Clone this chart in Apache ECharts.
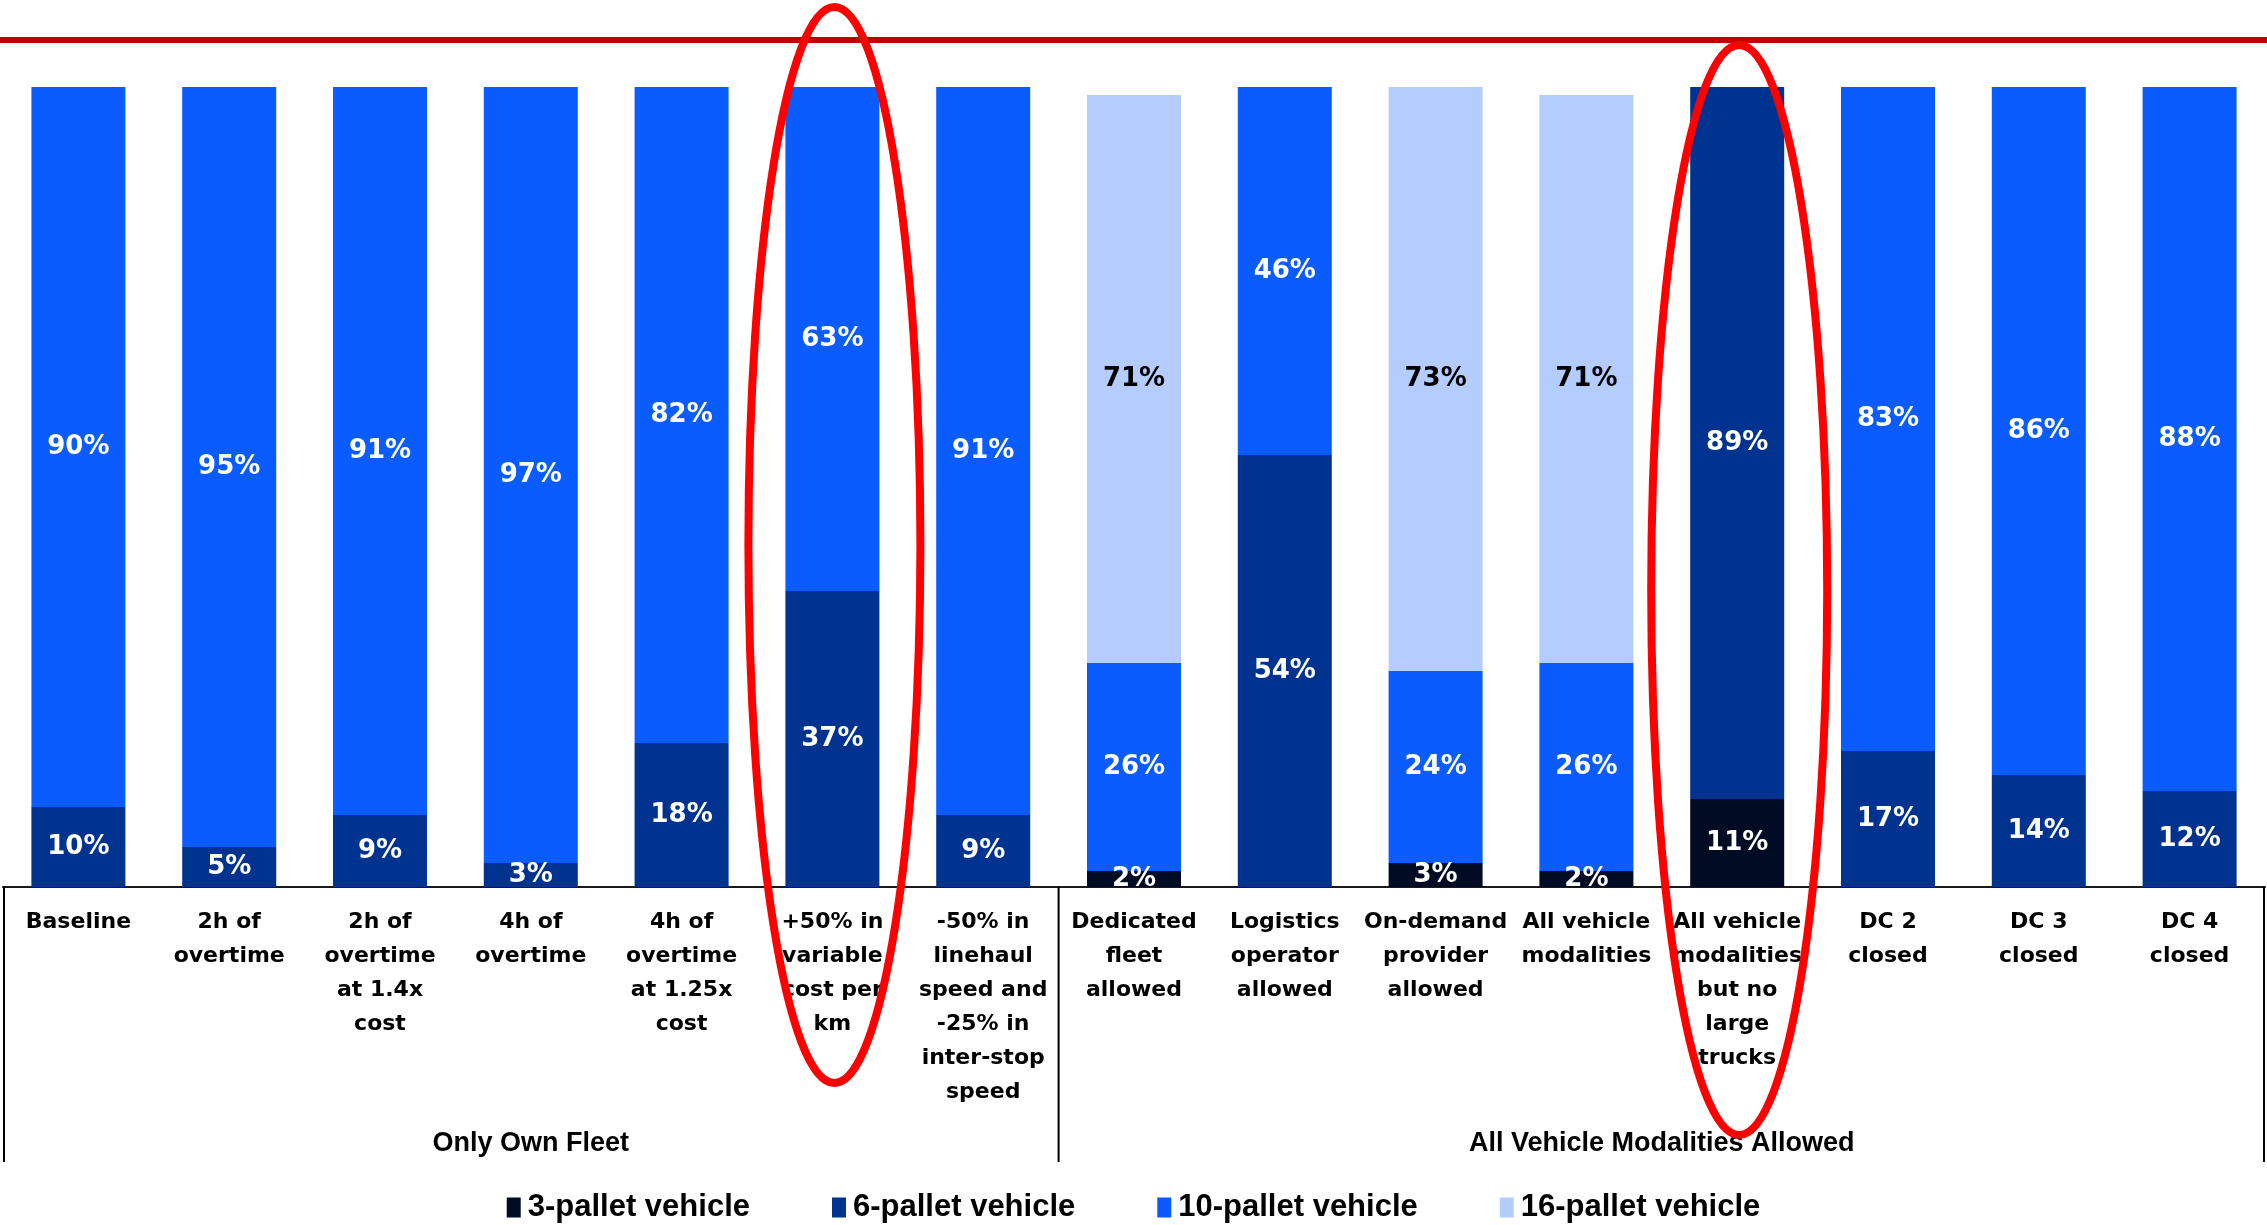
<!DOCTYPE html>
<html>
<head>
<meta charset="utf-8">
<title>Vehicle mix by scenario</title>
<script src="https://cdn.jsdelivr.net/npm/echarts@6/dist/echarts.min.js"></script>
<style>
  html, body { margin: 0; padding: 0; background: #ffffff; }
  #chart { width: 2267px; height: 1225px; }
</style>
</head>
<body>
<div id="chart"></div>
<script>
// Scenario names (x-axis categories)
const categories = [
  'Baseline',
  '2h of\novertime',
  '2h of\novertime\nat 1.4x\ncost',
  '4h of\novertime',
  '4h of\novertime\nat 1.25x\ncost',
  '+50% in\nvariable\ncost per\nkm',
  '-50% in\nlinehaul\nspeed and\n-25% in\ninter-stop\nspeed',
  'Dedicated\nfleet\nallowed',
  'Logistics\noperator\nallowed',
  'On-demand\nprovider\nallowed',
  'All vehicle\nmodalities',
  'All vehicle\nmodalities\nbut no\nlarge\ntrucks',
  'DC 2\nclosed',
  'DC 3\nclosed',
  'DC 4\nclosed'
];

// Share of each vehicle type per scenario (%)
const pallet3 = [0, 0, 0, 0, 0, 0, 0, 2, 0, 3, 2, 11, 0, 0, 0];
const pallet6 = [10, 5, 9, 3, 18, 37, 9, 0, 54, 0, 0, 89, 17, 14, 12];
const pallet10 = [90, 95, 91, 97, 82, 63, 91, 26, 46, 24, 26, 0, 83, 86, 88];
const pallet16 = [0, 0, 0, 0, 0, 0, 0, 71, 0, 73, 71, 0, 0, 0, 0];

// Scenario groups: [label, first category index, last category index]
const groups = [
  ['Only Own Fleet', 0, 6],
  ['All Vehicle Modalities Allowed', 7, 14]
];

// Highlighted scenarios
const highlighted = [5, 11];

const seriesNames = ['3-pallet vehicle', '6-pallet vehicle', '10-pallet vehicle', '16-pallet vehicle'];
const seriesData = [pallet3, pallet6, pallet10, pallet16];
const seriesColors = ['#020B24', '#003390', '#0B5CFF', '#B5CCFF'];
const labelColors = ['#ffffff', '#ffffff', '#ffffff', '#000000'];

const chart = echarts.init(document.getElementById('chart'), null, { renderer: 'canvas' });

const option = {
  animation: false,
  backgroundColor: '#ffffff',
  grid: { left: 3, right: 2, top: 87, bottom: 338, containLabel: false },
  legend: {
    data: seriesNames,
    top: 1187,
    left: 'center',
    icon: 'rect',
    itemWidth: 14,
    itemHeight: 20,
    itemGap: 82,
    textStyle: {
      fontFamily: 'Liberation Sans',
      fontWeight: 'bold',
      fontSize: 31,
      color: '#000000',
      padding: [0, 0, 0, 2]
    }
  },
  xAxis: {
    type: 'category',
    data: categories,
    boundaryGap: true,
    axisLine: { show: true, lineStyle: { color: '#1a1a1a', width: 2 } },
    axisTick: { show: false },
    axisLabel: {
      interval: 0,
      margin: 18,
      fontFamily: 'DejaVu Sans',
      fontWeight: 'bold',
      fontSize: 22,
      lineHeight: 34,
      color: '#000000',
      align: 'center'
    }
  },
  yAxis: {
    type: 'value',
    min: 0,
    max: 100,
    show: false,
    splitLine: { show: false }
  },
  series: seriesNames.map((name, i) => ({
    name: name,
    type: 'bar',
    stack: 'mix',
    barWidth: 94,
    data: seriesData[i],
    itemStyle: { color: seriesColors[i] },
    label: {
      show: true,
      position: 'inside',
      color: labelColors[i],
      fontFamily: 'DejaVu Sans',
      fontWeight: 'bold',
      fontSize: 26,
      formatter: p => (p.value > 0 ? p.value + '%' : '')
    },
    emphasis: { disabled: true }
  }))
};

chart.setOption(option);

// Category geometry from the axis scale
const cx = i => chart.convertToPixel({ xAxisIndex: 0 }, i);
const band = cx(1) - cx(0);
const baseY = chart.convertToPixel({ yAxisIndex: 0 }, 0);
const edge = i => cx(i) - band / 2;
const lineBottom = 1162;

const graphics = [];

// Reference line above the bars
graphics.push({
  type: 'line',
  shape: { x1: 0, y1: 40, x2: 2267, y2: 40 },
  style: { stroke: '#C00000', lineWidth: 6 },
  z: 10
});

// Group separators below the axis
const separatorIdx = [0, 7, 15];
separatorIdx.forEach(i => {
  let x = edge(i);
  if (i === 0) x += 1;
  if (i === 15) x -= 1;
  graphics.push({
    type: 'line',
    shape: { x1: x, y1: baseY, x2: x, y2: lineBottom },
    style: { stroke: '#000000', lineWidth: 2 },
    z: 5
  });
});

// Group labels
groups.forEach(([label, a, b]) => {
  graphics.push({
    type: 'text',
    x: (edge(a) + edge(b + 1)) / 2,
    y: 1144,
    style: {
      text: label,
      fontFamily: 'Liberation Sans',
      fontWeight: 'bold',
      fontSize: 27,
      fill: '#000000',
      align: 'center',
      verticalAlign: 'middle'
    },
    z: 5
  });
});

// Ellipses around the highlighted scenarios
const ellipseGeom = [
  { cy: 545, rx: 86, ry: 538 },
  { cy: 590, rx: 88, ry: 545 }
];
highlighted.forEach((idx, k) => {
  graphics.push({
    type: 'ellipse',
    shape: { cx: cx(idx) + 2, cy: ellipseGeom[k].cy, rx: ellipseGeom[k].rx, ry: ellipseGeom[k].ry },
    style: { fill: null, stroke: '#FF0000', lineWidth: 8 },
    z: 20
  });
});

chart.setOption({ graphic: graphics });
</script>
</body>
</html>
